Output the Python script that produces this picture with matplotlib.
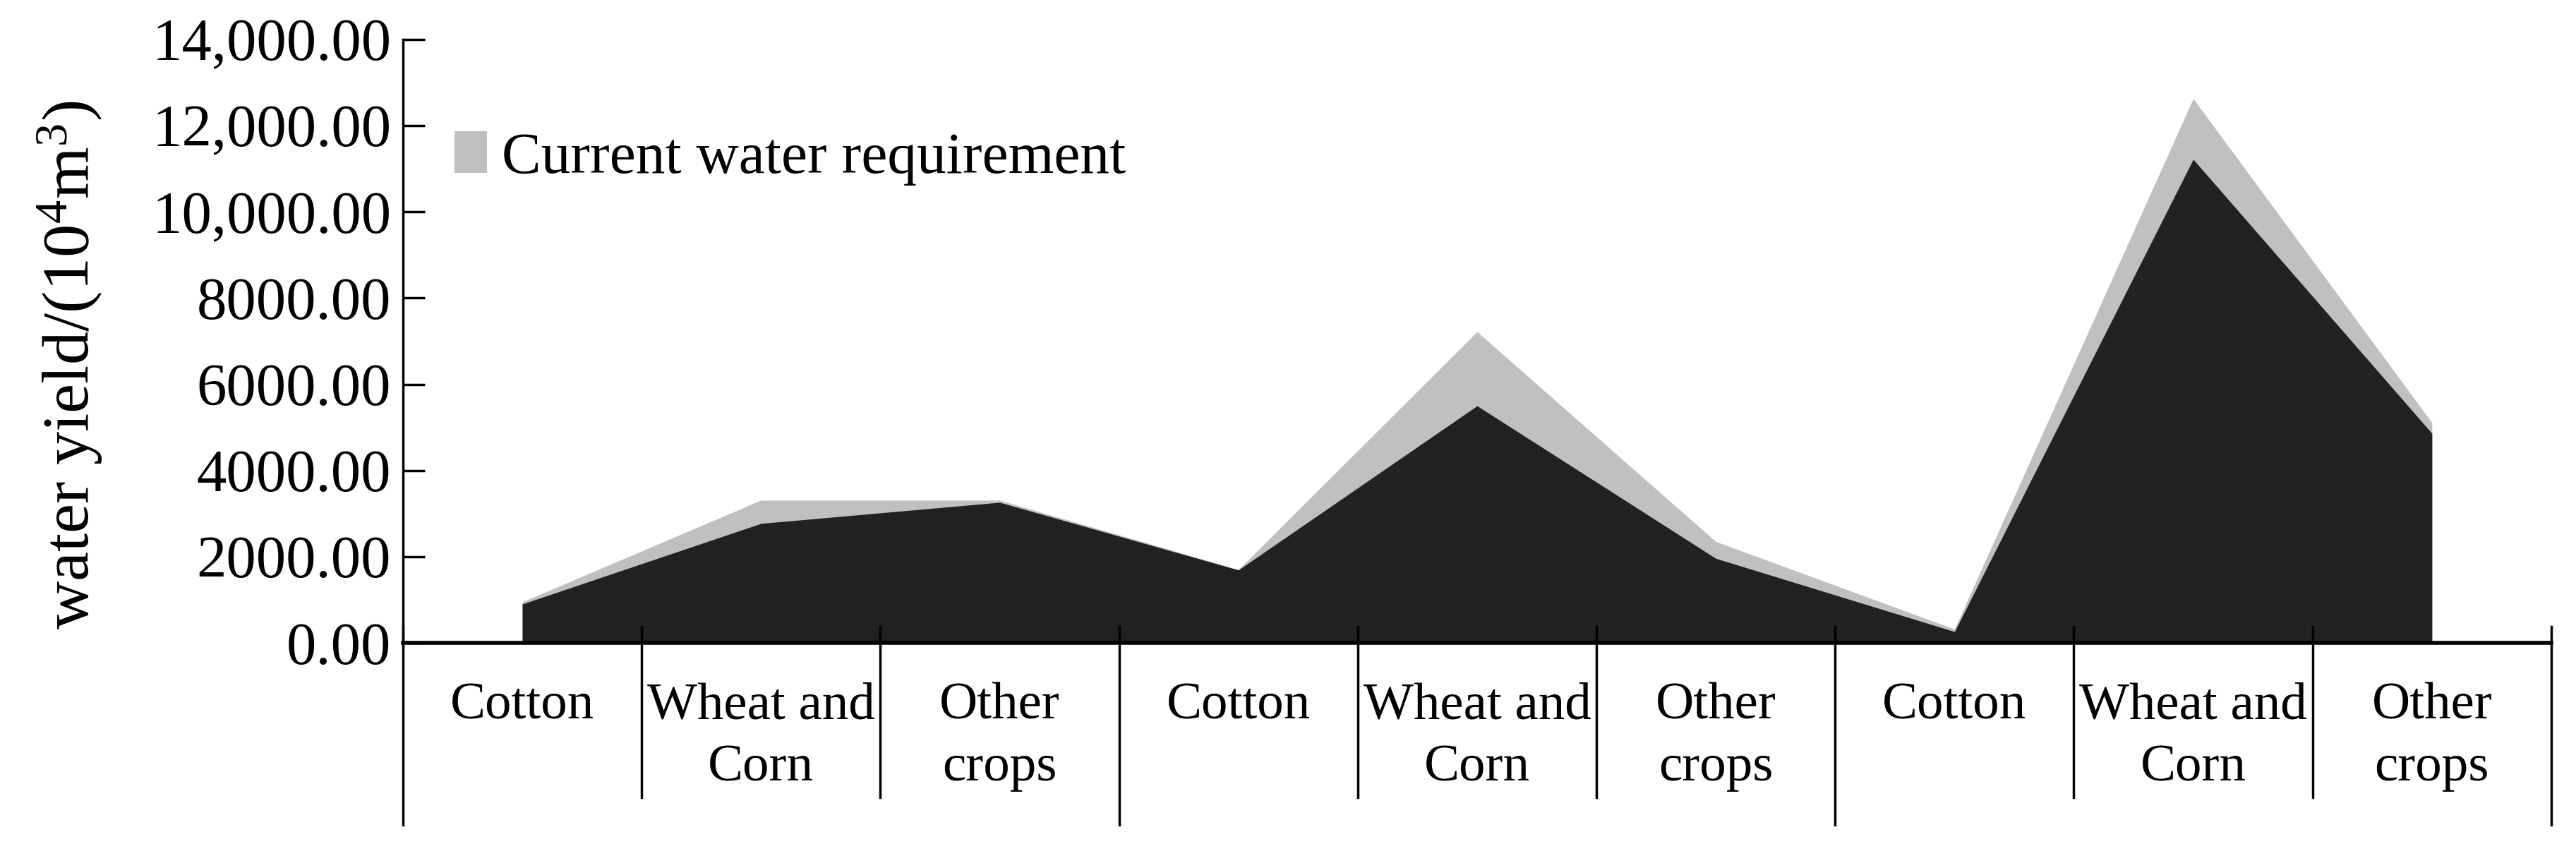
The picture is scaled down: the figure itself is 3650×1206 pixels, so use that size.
import numpy as np
import matplotlib
matplotlib.use("Agg")
import matplotlib.pyplot as plt
import matplotlib.transforms as mtransforms
from matplotlib.ticker import FuncFormatter, MultipleLocator

# Datos (10^4 m3)
categorias = ["Cotton", "Wheat and\nCorn", "Other\ncrops"] * 3
demanda_actual = [950, 3310, 3310, 1700, 7220, 2350, 320, 12630, 5110]
demanda_optima = [900, 2770, 3260, 1690, 5500, 1960, 260, 11220, 4860]

plt.rcParams["font.family"] = ["Liberation Serif", "DejaVu Serif"]
plt.rcParams["mathtext.fontset"] = "custom"
plt.rcParams["mathtext.rm"] = "Liberation Serif"
plt.rcParams["mathtext.it"] = "Liberation Serif:italic"

fig = plt.figure(figsize=(36.5, 12.06), dpi=100)
ax = fig.add_axes([0.1564, 0.2446, 0.9904 - 0.1564, 0.9536 - 0.2446])

x = np.arange(len(categorias))
ax.fill_between(x, demanda_actual, color="#c0c0c0", lw=0,
                label="Current water requirement")
ax.fill_between(x, demanda_optima, color="#212121", lw=0)

ax.set_xlim(-0.5, len(categorias) - 0.5)
ax.set_ylim(0, 14000)
ax.yaxis.set_major_locator(MultipleLocator(2000))
ax.yaxis.set_major_formatter(FuncFormatter(
    lambda v, p: f"{v:,.2f}" if v >= 10000 else f"{v:.2f}"))
ax.tick_params(axis="y", direction="in", length=22, width=2.5,
               labelsize=61, pad=12)
ax.set_xticks([])

for lado in ["top", "right"]:
    ax.spines[lado].set_visible(False)
ax.spines["left"].set_linewidth(2.5)
ax.spines["bottom"].set_linewidth(4)

# separadores de categorías y grupos
trans = mtransforms.blended_transform_factory(ax.transData, ax.transAxes)
for i in range(len(categorias) + 1):
    xb = i - 0.5
    y0 = -0.302 if i % 3 == 0 else -0.256
    ax.plot([xb, xb], [0.027, y0], color="black", lw=2.5,
            transform=trans, clip_on=False)

for xi, nombre in zip(x, categorias):
    ax.text(xi, -0.066, nombre, transform=trans, ha="center", va="top",
            fontsize=54, linespacing=1.38)

ax.set_ylabel("water yield/(10$^4$m$^3$)", fontsize=68)
ax.yaxis.set_label_coords(-0.139, 0.461)

handles, labels = ax.get_legend_handles_labels()
ax.legend(handles[:1], labels[:1], loc="center left",
          bbox_to_anchor=(0.024, 0.803), frameon=False, fontsize=60,
          handlelength=0.55, handleheight=0.7, handletextpad=0.25,
          borderpad=0, borderaxespad=0)

fig.savefig("out.png", dpi=100)
